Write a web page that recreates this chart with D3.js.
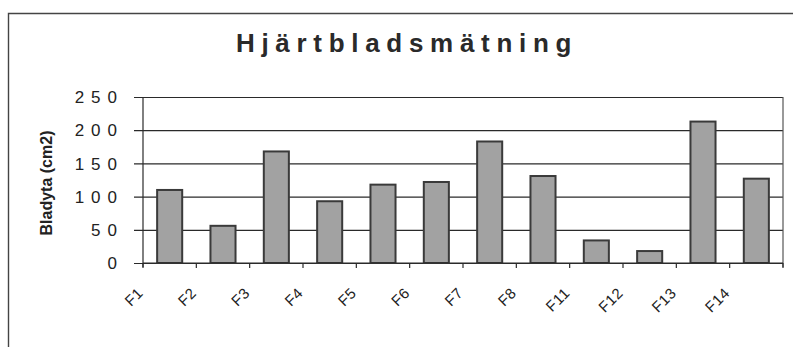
<!DOCTYPE html>
<html>
<head>
<meta charset="utf-8">
<script src="https://cdn.jsdelivr.net/npm/d3@7/dist/d3.min.js"></script>
<style>
  html, body { margin: 0; padding: 0; background: #fff; }
  svg { display: block; font-family: "Liberation Sans", Arial, sans-serif; }
</style>
</head>
<body>
<svg id="chart" width="793" height="347"></svg>
<script>
// Leaf area per plant
const categories = ["F1", "F2", "F3", "F4", "F5", "F6", "F7", "F8", "F11", "F12", "F13", "F14"];
const bladyta = [110, 56, 168, 93, 118, 122, 183, 131, 34, 18, 213, 127];
const yTicks = [0, 50, 100, 150, 200, 250];
const title = "Hjärtbladsmätning";
const yLabel = "Bladyta (cm2)";

const svg = d3.select("#chart");
const W = 793, H = 347;
const plot = { left: 143, right: 783, top: 97, bottom: 263 };
const ink = "#2a2a2a";

// outer chart frame (top and left edges)
svg.append("path")
  .attr("d", `M8.5,${H} V13.5 H${W}`)
  .attr("fill", "none").attr("stroke", "#444").attr("stroke-width", 1.4);

const x = d3.scaleBand()
  .domain(categories)
  .range([plot.left, plot.right])
  .paddingInner(0.53)
  .paddingOuter(0.265);

const y = d3.scaleLinear().domain([0, 250]).range([plot.bottom, plot.top]);

// horizontal gridlines with short ticks left of the axis
const yAxis = d3.axisLeft(y).tickValues(yTicks)
  .tickSize(-(plot.right - plot.left)).tickSizeOuter(0).tickFormat("");
const gy = svg.append("g").attr("transform", `translate(${plot.left},0)`).call(yAxis);
gy.select(".domain").remove();
gy.selectAll(".tick line")
  .attr("x1", -9)
  .attr("stroke", ink).attr("stroke-width", 1.2);

// y tick labels
svg.append("g").selectAll("text").data(yTicks).join("text")
  .attr("x", 117 + 7)
  .attr("y", d => y(d))
  .attr("dy", "0.36em")
  .attr("text-anchor", "end")
  .attr("font-size", 17)
  .attr("letter-spacing", 7)
  .attr("fill", "#222")
  .text(d => d);

// plot frame: left axis and right edge
svg.append("line").attr("x1", plot.left).attr("x2", plot.left)
  .attr("y1", plot.top).attr("y2", plot.bottom + 4)
  .attr("stroke", ink).attr("stroke-width", 1.2);
svg.append("line").attr("x1", plot.right).attr("x2", plot.right)
  .attr("y1", plot.top).attr("y2", plot.bottom + 4)
  .attr("stroke", "#555").attr("stroke-width", 1.2);

// category boundary ticks along the bottom axis
const step = x.step();
const gap = (step - x.bandwidth()) / 2;
const boundaries = d3.range(categories.length + 1).map(i => plot.left + i * step);
svg.append("g").selectAll("line").data(boundaries).join("line")
  .attr("x1", d => d).attr("x2", d => d)
  .attr("y1", plot.bottom).attr("y2", plot.bottom + 5)
  .attr("stroke", ink).attr("stroke-width", 1.2);

// bars
svg.append("g").selectAll("rect").data(categories).join("rect")
  .attr("x", d => x(d))
  .attr("y", (d, i) => y(bladyta[i]))
  .attr("width", x.bandwidth())
  .attr("height", (d, i) => y(0) - y(bladyta[i]))
  .attr("fill", "#a2a2a2")
  .attr("stroke", "#3a3a3a")
  .attr("stroke-width", 2);

// x axis baseline
svg.append("line").attr("x1", plot.left).attr("x2", plot.right)
  .attr("y1", plot.bottom).attr("y2", plot.bottom)
  .attr("stroke", ink).attr("stroke-width", 1.2);

// rotated category labels, set at each category's left boundary
svg.append("g").selectAll("text").data(categories).join("text")
  .attr("transform", d => `translate(${x(d) - gap + 1},${plot.bottom + 31}) rotate(-45)`)
  .attr("text-anchor", "end")
  .attr("font-size", 15)
  .attr("letter-spacing", 0.5)
  .attr("fill", "#222")
  .text(d => d);

// title
svg.append("text")
  .attr("x", 404 + 3)
  .attr("y", 52)
  .attr("text-anchor", "middle")
  .attr("font-size", 26)
  .attr("font-weight", "bold")
  .attr("letter-spacing", 6.7)
  .attr("fill", "#2a2a2a")
  .text(title);

// y axis title
svg.append("text")
  .attr("transform", "translate(52,183) rotate(-90)")
  .attr("text-anchor", "middle")
  .attr("font-size", 16)
  .attr("font-weight", "bold")
  .attr("fill", "#222")
  .text(yLabel);
</script>
</body>
</html>
